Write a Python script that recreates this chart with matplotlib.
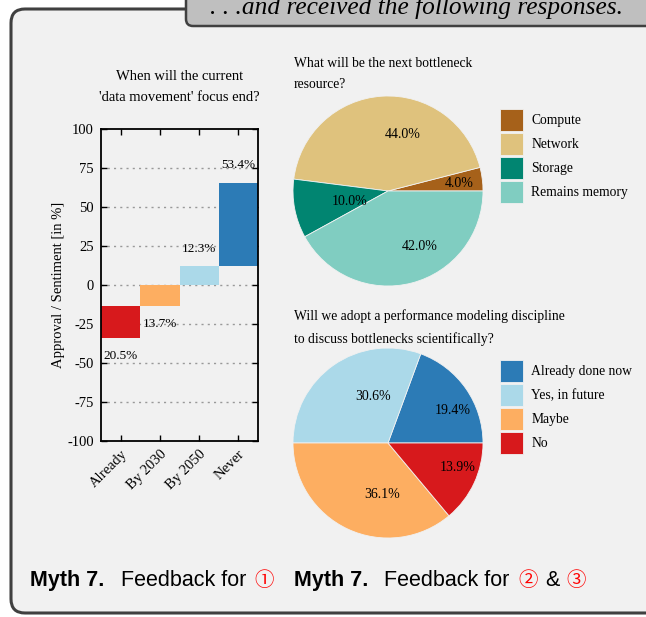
import numpy as np
import matplotlib
matplotlib.use("Agg")
import matplotlib.pyplot as plt
from matplotlib.patches import FancyBboxPatch

# --- data -------------------------------------------------------------
bar_categories = ['Already', 'By 2030', 'By 2050', 'Never']
bar_shares = [20.5, 13.7, 12.3, 53.4]
bar_signs = [-1, -1, 1, 1]          # disapproving answers go below zero
bar_colors = ['#d7191c', '#fdae61', '#abd9e9', '#2c7bb6']
bar_yticks = [100, 75, 50, 25, 0, -25, -50, -75, -100]

res_labels = ['Compute', 'Network', 'Storage', 'Remains memory']
res_values = [4.0, 44.0, 10.0, 42.0]
res_colors = ['#a6611a', '#dfc27d', '#018571', '#80cdc1']

model_labels = ['Already done now', 'Yes, in future', 'Maybe', 'No']
model_values = [19.4, 30.6, 36.1, 13.9]
model_colors = ['#2c7bb6', '#abd9e9', '#fdae61', '#d7191c']

SERIF = 'Liberation Serif'
SANS = 'Liberation Sans'
CIRCLED = ['Noto Sans CJK JP', 'DejaVu Sans']
W, H = 646, 617

fig = plt.figure(figsize=(W / 100, H / 100), dpi=100)
fig.patch.set_facecolor('white')


def px_axes(left, top, width, height):
    """Axes placed with pixel coordinates (origin top-left)."""
    return fig.add_axes([left / W, 1 - (top + height) / H, width / W, height / H])


# --- background frame and header box ----------------------------------
bg = fig.add_axes([0, 0, 1, 1], zorder=-5)
bg.set_xlim(0, W)
bg.set_ylim(H, 0)
bg.axis('off')
bg.add_patch(FancyBboxPatch((11, 9), 700, 604, boxstyle='round,pad=0,rounding_size=14',
                            facecolor='#f1f1f1', edgecolor='#404040', linewidth=2.2))
bg.add_patch(FancyBboxPatch((186, -30), 520, 56, boxstyle='round,pad=0,rounding_size=7',
                            facecolor='#bfbfbf', edgecolor='#404040', linewidth=1.8))
bg.text(416, 14, '. . .and received the following responses.', ha='center', va='baseline',
        family=SERIF, style='italic', fontsize=18.3)

# captions
cap_y = 586
bg.text(30, cap_y, 'Myth 7.', family=SANS, weight='bold', fontsize=15.5, va='baseline')
bg.text(121, cap_y, 'Feedback for', family=SANS, fontsize=15.5, va='baseline')
bg.text(254, cap_y, '\u2460', family=CIRCLED, color='red', fontsize=14, va='baseline')
bg.text(294, cap_y, 'Myth 7.', family=SANS, weight='bold', fontsize=15.5, va='baseline')
bg.text(384, cap_y, 'Feedback for', family=SANS, fontsize=15.5, va='baseline')
bg.text(518, cap_y, '\u2461', family=CIRCLED, color='red', fontsize=14, va='baseline')
bg.text(545, cap_y, '&', family=SANS, fontsize=15.5, va='baseline')
bg.text(566, cap_y, '\u2462', family=CIRCLED, color='red', fontsize=14, va='baseline')

# --- bar chart ----------------------------------------------------------
ax = px_axes(101, 129, 157, 312)
ax.set_facecolor('none')
signed = np.array(bar_shares) * np.array(bar_signs)
# stack negatives downward from zero (closest category first), positives upward
neg_idx = [i for i, s in enumerate(bar_signs) if s < 0][::-1]
pos_idx = [i for i, s in enumerate(bar_signs) if s > 0]
bottoms = np.zeros(len(bar_shares))
acc = 0.0
for i in neg_idx:
    bottoms[i] = acc
    acc += signed[i]
acc = 0.0
for i in pos_idx:
    bottoms[i] = acc
    acc += signed[i]

x = np.arange(len(bar_categories))
ax.bar(x, signed, width=1.0, bottom=bottoms, color=bar_colors, linewidth=0, zorder=2)
for i in range(len(x)):
    end = bottoms[i] + signed[i]
    ypos = end + 11 * bar_signs[i]
    ax.text(x[i], ypos, f'{bar_shares[i]:.1f}%', ha='center', va='center',
            family=SERIF, fontsize=9.5, zorder=3)

ax.set_xlim(-0.5, 3.5)
ax.set_ylim(-100, 100)
ax.set_yticks(bar_yticks)
ax.set_yticklabels([str(v) for v in bar_yticks], family=SERIF, fontsize=10.5)
ax.set_xticks(x)
ax.set_xticklabels(bar_categories, rotation=45, ha='right', rotation_mode='anchor',
                   family=SERIF, fontsize=10.5)
ax.tick_params(direction='in', length=4, width=1, top=True, right=True, pad=5)
for v in bar_yticks[1:-1]:
    ax.axhline(v, color='#999999', linestyle=(0, (1.5, 3)), linewidth=1, zorder=1)
for s in ax.spines.values():
    s.set_linewidth(1.3)
ax.set_ylabel('Approval / Sentiment [in %]', family=SERIF, fontsize=10.5, labelpad=2)
ax.set_title("When will the current\n'data movement' focus end?", family=SERIF,
             fontsize=10.5, linespacing=1.8, pad=20)

# --- pie charts ---------------------------------------------------------
def draw_pie(top, values, labels, colors, title, legend_top):
    pax = px_axes(293, top, 190, 190)
    wedges, _, autotexts = pax.pie(values, colors=colors, startangle=0, autopct='%1.1f%%',
                                   pctdistance=0.6,
                                   wedgeprops=dict(linewidth=0.6, edgecolor='#f1f1f1'),
                                   textprops=dict(family=SERIF, fontsize=10))
    for t in autotexts:
        t.set_ha('left')
    pax.set_xlim(-1, 1)
    pax.set_ylim(-1, 1)
    pax.set_aspect('equal')
    pax.legend(wedges, labels, loc='upper left',
               bbox_to_anchor=(500 / W, 1 - legend_top / H),
               bbox_transform=fig.transFigure, frameon=False, borderpad=0,
               borderaxespad=0, handlelength=1.7, handleheight=2.1,
               labelspacing=0.15, handletextpad=0.6,
               prop=dict(family=SERIF, size=9.8))
    bg.text(294, top - 39, title, family=SERIF, fontsize=9.8, va='top',
            linespacing=1.85)
    return pax


draw_pie(96, res_values, res_labels, res_colors,
         'What will be the next bottleneck\nresource?', 109)
draw_pie(348, model_values, model_labels, model_colors,
         'Will we adopt a performance modeling discipline\nto discuss bottlenecks scientifically?',
         360)

fig.savefig('out.png', dpi=100)
